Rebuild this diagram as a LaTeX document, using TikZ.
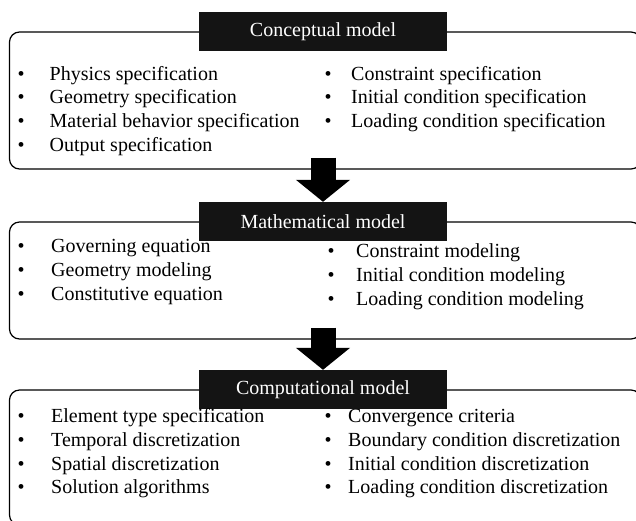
\documentclass[tikz,border=0pt]{standalone}
\usepackage{fontspec}
\setmainfont{Liberation Serif}
\usetikzlibrary{arrows.meta}
\newlength{\bulgap}
\newcommand{\entry}[1]{\strut\makebox[\bulgap][l]{\textbullet}#1}
\tikzset{
	frame/.style={draw, line width=1.2pt, rounded corners=10pt, inner sep=0pt},
	heading/.style={rectangle, fill=black!92, text=white, minimum width=248pt, minimum height=39pt, inner sep=0pt, font=\fontsize{20}{24}\selectfont},
	list/.style={align=left, inner sep=0pt, anchor=north west, font=\fontsize{20}{23.7}\selectfont, execute at begin node={\setlength{\bulgap}{#1}}},
	bigarrow/.style={line width=25pt, -{Triangle[width=53pt, length=22pt]}},
}

\begin{document}
\begin{tikzpicture}[x=1pt, y=-1pt]
	\useasboundingbox (0,0) rectangle (636,520);
	% the frames
	\node[frame, minimum width=631.5pt, minimum height=137pt] (conceptframe) at (325.25,100.5) {};
	\node[frame, minimum width=631.5pt, minimum height=117pt] (mathframe) at (325.25,280.5) {};
	\node[frame, minimum width=631.5pt, minimum height=135pt] (compframe) at (325.25,457.5) {};
	% the headings
	\node[heading] (concepthead) at (323,31.5) {Conceptual model};
	\node[heading] (mathhead) at (323,221.5) {Mathematical model};
	\node[heading] (comphead) at (323,389.5) {Computational model};
	% the lists (north = first baseline - strut height)
	\node[list=32pt] (conceptleft) at (17.5,63.4) {\entry{Physics specification}\\ \entry{Geometry specification}\\ \entry{Material behavior specification}\\ \entry{Output specification}};
	\node[list=26.5pt] (conceptright) at (324.5,63.4) {\entry{Constraint specification}\\ \entry{Initial condition specification}\\ \entry{Loading condition specification}};
	\node[list=33.5pt] (mathleft) at (17.5,236) {\entry{Governing equation}\\ \entry{Geometry modeling}\\ \entry{Constitutive equation}};
	\node[list=28.5pt] (mathright) at (327.5,240.9) {\entry{Constraint modeling}\\ \entry{Initial condition modeling}\\ \entry{Loading condition modeling}};
	\node[list=33.5pt] (compleft) at (17.5,405.9) {\entry{Element type specification}\\ \entry{Temporal discretization}\\ \entry{Spatial discretization}\\ \entry{Solution algorithms}};
	\node[list=23.5pt] (compright) at (324.5,405.9) {\entry{Convergence criteria}\\ \entry{Boundary condition discretization}\\ \entry{Initial condition discretization}\\ \entry{Loading condition discretization}};
	% the arrows
	\draw[bigarrow] ([yshift=12pt]conceptframe.south -| mathhead.north) -- (mathhead.north);
	\draw[bigarrow] ([yshift=12pt]mathframe.south -| comphead.north) -- (comphead.north);
\end{tikzpicture}
\end{document}
